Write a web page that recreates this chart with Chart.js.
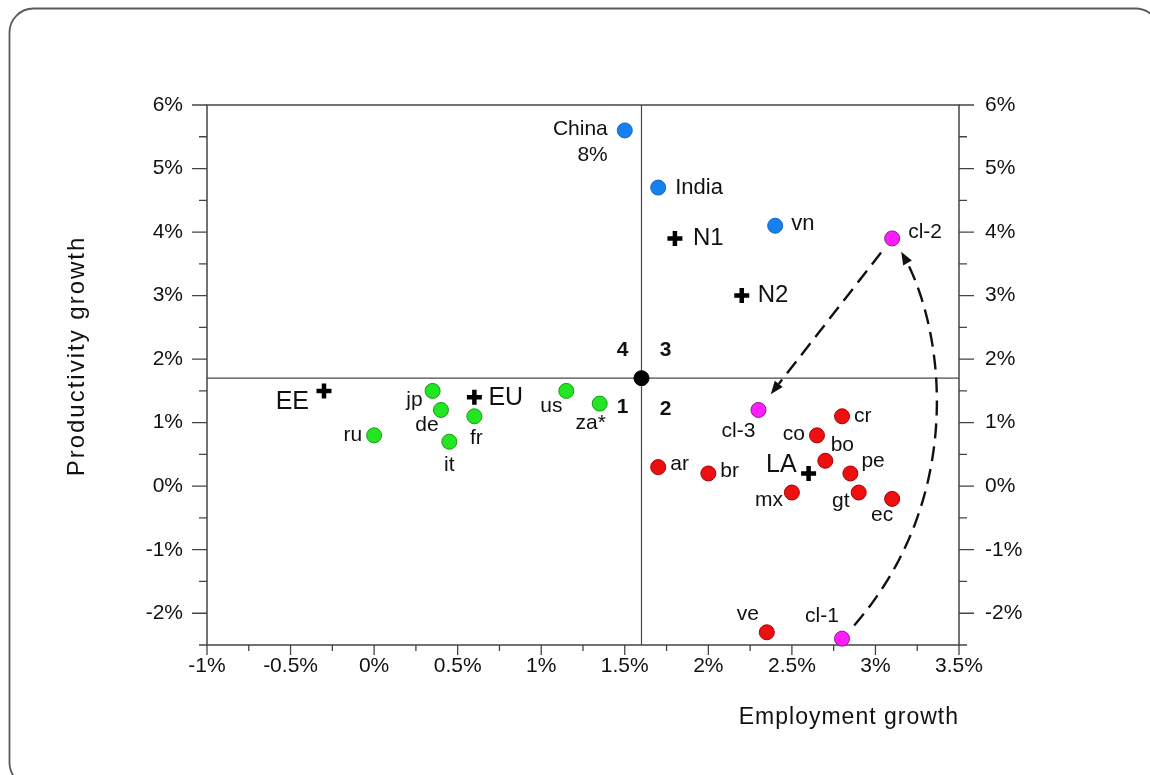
<!DOCTYPE html>
<html>
<head>
<meta charset="utf-8">
<title>Employment and productivity growth</title>
<script src="https://cdn.jsdelivr.net/npm/chart.js@4.4.1/dist/chart.umd.min.js"></script>
<style>
  html, body { margin: 0; padding: 0; background: #fff; }
  #wrap { width: 1150px; height: 775px; position: relative; overflow: hidden; }
</style>
</head>
<body>
<div id="wrap"><canvas id="c" width="1150" height="775"></canvas></div>
<script>
// Average annual growth: employment (x) and labour productivity (y), in %

// Fast-growing Asian economies
const asiaNames = ['China', 'India', 'vn'];
const asiaEmployment = [1.5, 1.7, 2.4];
const asiaProductivity = [5.6, 4.7, 4.1];
const chinaOffScaleNote = '8%';

// Advanced and other economies
const otherNames = ['ru', 'jp', 'de', 'it', 'fr', 'us', 'za*'];
const otherEmployment = [0.0, 0.35, 0.4, 0.45, 0.6, 1.15, 1.35];
const otherProductivity = [0.8, 1.5, 1.2, 0.7, 1.1, 1.5, 1.3];

// Latin America
const latamNames = ['ar', 'br', 'co', 'bo', 'cr', 'pe', 'mx', 'gt', 'ec', 've'];
const latamEmployment = [1.7, 2.0, 2.65, 2.7, 2.8, 2.85, 2.5, 2.9, 3.1, 2.35];
const latamProductivity = [0.3, 0.2, 0.8, 0.4, 1.1, 0.2, -0.1, -0.1, -0.2, -2.3];

// Chile in three periods
const chileNames = ['cl-1', 'cl-2', 'cl-3'];
const chileEmployment = [2.8, 3.1, 2.3];
const chileProductivity = [-2.4, 3.9, 1.2];

// Regional aggregates
const aggregateNames = ['N1', 'N2', 'EE', 'EU', 'LA'];
const aggregateEmployment = [1.8, 2.2, -0.3, 0.6, 2.6];
const aggregateProductivity = [3.9, 3.0, 1.5, 1.4, 0.2];

// Reference point splitting the plane into quadrants
const pivotEmployment = [1.6];
const pivotProductivity = [1.7];
const quadrantNames = ['1', '2', '3', '4'];

// Axis ticks
const xTickValues = [-1, -0.5, 0, 0.5, 1, 1.5, 2, 2.5, 3, 3.5];
const yTickValues = [-2, -1, 0, 1, 2, 3, 4, 5, 6];
const xRange = [-1, 3.5];
const yRange = [-2.5, 6];
const xMinorStep = 0.25;
const yMinorStep = 0.5;

const xTitle = 'Employment growth';
const yTitle = 'Productivity growth';

// ---------------------------------------------------------------------------
const FONT = '"Liberation Sans", Arial, Helvetica, sans-serif';

// Label placement around each marker: pixel offset, alignment, font size
const labelPlacement = {
  'China': { dx: -17, dy: -1, align: 'right', size: 21 },
  'India': { dx: 17, dy: 0, align: 'left', size: 22 },
  'vn':    { dx: 16, dy: -2, align: 'left', size: 22 },
  'ru':    { dx: -12, dy: 0, align: 'right', size: 21 },
  'jp':    { dx: -10, dy: 9, align: 'right', size: 21 },
  'de':    { dx: -14, dy: 15, align: 'center', size: 21 },
  'it':    { dx: 0, dy: 23, align: 'center', size: 21 },
  'fr':    { dx: 2, dy: 22, align: 'center', size: 21 },
  'us':    { dx: -15, dy: 15, align: 'center', size: 21 },
  'za*':   { dx: -9, dy: 20, align: 'center', size: 21 },
  'ar':    { dx: 12, dy: -3, align: 'left', size: 21 },
  'br':    { dx: 12, dy: -2, align: 'left', size: 21 },
  'co':    { dx: -12, dy: -1, align: 'right', size: 21 },
  'bo':    { dx: 17, dy: -16, align: 'center', size: 21 },
  'cr':    { dx: 12, dy: 0, align: 'left', size: 21 },
  'pe':    { dx: 11, dy: -12, align: 'left', size: 21 },
  'mx':    { dx: -9, dy: 8, align: 'right', size: 21 },
  'gt':    { dx: -18, dy: 9, align: 'center', size: 21 },
  'ec':    { dx: -10, dy: 16, align: 'center', size: 21 },
  've':    { dx: -19, dy: -18, align: 'center', size: 21 },
  'cl-1':  { dx: -20, dy: -22, align: 'center', size: 21 },
  'cl-2':  { dx: 16, dy: -6, align: 'left', size: 21 },
  'cl-3':  { dx: -20, dy: 21, align: 'center', size: 21 },
  'N1':    { dx: 18, dy: 0, align: 'left', size: 24 },
  'N2':    { dx: 16, dy: 0, align: 'left', size: 24 },
  'EE':    { dx: -15, dy: 11, align: 'right', size: 25 },
  'EU':    { dx: 14, dy: 1, align: 'left', size: 25 },
  'LA':    { dx: -12, dy: -8, align: 'right', size: 25 }
};
const quadrantPlacement = {
  '1': { dx: -19, dy: 29 },
  '2': { dx: 24, dy: 31 },
  '3': { dx: 24, dy: -28 },
  '4': { dx: -19, dy: -28 }
};

function points(names, xs, ys) {
  return names.map((n, i) => ({ x: xs[i], y: ys[i], name: n }));
}

function dotSet(label, names, xs, ys, fill, edge) {
  return {
    label,
    data: points(names, xs, ys),
    pointStyle: 'circle',
    pointRadius: 7.5,
    pointBackgroundColor: fill,
    pointBorderColor: edge,
    pointBorderWidth: 1,
    showLine: false
  };
}

const datasets = [
  dotSet('Asia', asiaNames, asiaEmployment, asiaProductivity, '#1681ee', '#1565c0'),
  dotSet('Other', otherNames, otherEmployment, otherProductivity, '#22e622', '#169c16'),
  dotSet('Latin America', latamNames, latamEmployment, latamProductivity, '#ee1010', '#a80000'),
  dotSet('Chile', chileNames, chileEmployment, chileProductivity, '#ff1cff', '#8a1a8a'),
  {
    label: 'Aggregates',
    data: points(aggregateNames, aggregateEmployment, aggregateProductivity),
    pointStyle: 'cross',
    pointRadius: 7.5,
    pointBorderColor: '#000',
    pointBorderWidth: 4.5,
    showLine: false
  },
  {
    label: 'Pivot',
    data: points(['pivot'], pivotEmployment, pivotProductivity),
    pointStyle: 'circle',
    pointRadius: 7.5,
    pointBackgroundColor: '#000',
    pointBorderColor: '#000',
    pointBorderWidth: 1,
    showLine: false
  }
];

function pixelOf(chart, name) {
  for (const ds of chart.data.datasets) {
    const p = ds.data.find(d => d.name === name);
    if (p) return { x: chart.scales.x.getPixelForValue(p.x), y: chart.scales.y.getPixelForValue(p.y) };
  }
  return null;
}

function cubicPolyline(p0, p1, p2, p3, n) {
  const out = [];
  for (let i = 0; i <= n; i++) {
    const t = i / n, u = 1 - t;
    out.push({
      x: u*u*u*p0.x + 3*u*u*t*p1.x + 3*u*t*t*p2.x + t*t*t*p3.x,
      y: u*u*u*p0.y + 3*u*u*t*p1.y + 3*u*t*t*p2.y + t*t*t*p3.y
    });
  }
  return out;
}

function trimPolyline(pts, startGap, endGap) {
  const cum = [0];
  for (let i = 1; i < pts.length; i++) cum.push(cum[i-1] + Math.hypot(pts[i].x - pts[i-1].x, pts[i].y - pts[i-1].y));
  const total = cum[cum.length - 1];
  const at = (d) => {
    for (let i = 1; i < pts.length; i++) {
      if (cum[i] >= d) {
        const f = (d - cum[i-1]) / (cum[i] - cum[i-1] || 1);
        return { x: pts[i-1].x + f * (pts[i].x - pts[i-1].x), y: pts[i-1].y + f * (pts[i].y - pts[i-1].y) };
      }
    }
    return pts[pts.length - 1];
  };
  const res = [at(startGap)];
  for (let i = 0; i < pts.length; i++) if (cum[i] > startGap && cum[i] < total - endGap) res.push(pts[i]);
  res.push(at(total - endGap));
  return res;
}

function drawArrow(ctx, pts) {
  ctx.save();
  ctx.strokeStyle = '#111';
  ctx.fillStyle = '#111';
  ctx.lineWidth = 2.4;
  const tip = pts[pts.length - 1];
  let k = pts.length - 2;
  while (k > 0 && Math.hypot(tip.x - pts[k].x, tip.y - pts[k].y) < 6) k--;
  const ang = Math.atan2(tip.y - pts[k].y, tip.x - pts[k].x);
  const headLen = 13, headHalf = 5;
  const base = { x: tip.x - headLen * Math.cos(ang), y: tip.y - headLen * Math.sin(ang) };
  // shaft stops at the head's base
  const shaft = pts.slice(0, -1).filter(p => Math.hypot(p.x - tip.x, p.y - tip.y) > headLen);
  shaft.push(base);
  ctx.setLineDash([15, 8]);
  ctx.beginPath();
  shaft.forEach((p, i) => i ? ctx.lineTo(p.x, p.y) : ctx.moveTo(p.x, p.y));
  ctx.stroke();
  ctx.setLineDash([]);
  ctx.beginPath();
  ctx.moveTo(tip.x, tip.y);
  ctx.lineTo(base.x + headHalf * Math.sin(ang), base.y - headHalf * Math.cos(ang));
  ctx.lineTo(base.x - headHalf * Math.sin(ang), base.y + headHalf * Math.cos(ang));
  ctx.closePath();
  ctx.fill();
  ctx.restore();
}

const decor = {
  id: 'decor',
  beforeDraw(chart) {
    const ctx = chart.ctx;
    ctx.save();
    ctx.fillStyle = '#fff';
    ctx.fillRect(0, 0, chart.width, chart.height);
    ctx.strokeStyle = '#5a5a5a';
    ctx.lineWidth = 1.8;
    ctx.beginPath();
    ctx.roundRect(9.5, 8.5, 1150, 778, 24);
    ctx.stroke();
    ctx.restore();
  },
  beforeDatasetsDraw(chart) {
    const { ctx, chartArea: a, scales: { x, y } } = chart;
    ctx.save();
    // quadrant lines through the pivot
    ctx.strokeStyle = '#4a4a4a';
    ctx.lineWidth = 1.2;
    const px = x.getPixelForValue(pivotEmployment[0]);
    const py = y.getPixelForValue(pivotProductivity[0]);
    ctx.beginPath();
    ctx.moveTo(px, a.top); ctx.lineTo(px, a.bottom);
    ctx.moveTo(a.left, py); ctx.lineTo(a.right, py);
    ctx.stroke();

    // frame of the plot
    ctx.strokeStyle = '#444';
    ctx.lineWidth = 1.5;
    ctx.strokeRect(a.left, a.top, a.right - a.left, a.bottom - a.top);

    // tick marks: bottom axis
    ctx.lineWidth = 1.3;
    ctx.beginPath();
    const nx = Math.round((xRange[1] - xRange[0]) / xMinorStep);
    for (let i = 0; i <= nx; i++) {
      const v = xRange[0] + i * xMinorStep;
      const major = xTickValues.some(t => Math.abs(t - v) < 1e-9);
      const p = x.getPixelForValue(v);
      ctx.moveTo(p, a.bottom); ctx.lineTo(p, a.bottom + (major ? 10 : 6));
    }
    // tick marks: left and right axes
    const ny = Math.round((yRange[1] - yRange[0]) / yMinorStep);
    for (let i = 0; i <= ny; i++) {
      const v = yRange[0] + i * yMinorStep;
      const major = yTickValues.some(t => Math.abs(t - v) < 1e-9);
      const p = y.getPixelForValue(v);
      const len = major ? 15 : 8;
      ctx.moveTo(a.left, p); ctx.lineTo(a.left - len, p);
      ctx.moveTo(a.right, p); ctx.lineTo(a.right + len, p);
    }
    ctx.stroke();
    ctx.restore();
  },
  afterDatasetsDraw(chart) {
    const { ctx, chartArea: a } = chart;
    ctx.save();

    // arrows linking the Chile periods
    const c1 = pixelOf(chart, 'cl-1'), c2 = pixelOf(chart, 'cl-2'), c3 = pixelOf(chart, 'cl-3');
    drawArrow(ctx, trimPolyline([c2, c3], 18, 20));
    const curve = cubicPolyline(c1, { x: c1.x + 138, y: c1.y - 143 }, { x: c2.x + 48, y: c2.y + 61 }, c2, 120);
    drawArrow(ctx, trimPolyline(curve, 18, 16));

    // point labels
    ctx.fillStyle = '#111';
    ctx.textBaseline = 'middle';
    for (const [name, pl] of Object.entries(labelPlacement)) {
      const p = pixelOf(chart, name);
      if (!p) continue;
      ctx.font = pl.size + 'px ' + FONT;
      ctx.textAlign = pl.align;
      ctx.fillText(name, p.x + pl.dx, p.y + pl.dy);
    }
    const china = pixelOf(chart, 'China');
    ctx.font = '21px ' + FONT;
    ctx.textAlign = 'right';
    ctx.fillText(chinaOffScaleNote, china.x - 17, china.y + 25);

    // quadrant numbers
    const piv = pixelOf(chart, 'pivot');
    ctx.font = 'bold 21px ' + FONT;
    ctx.textAlign = 'center';
    for (const q of quadrantNames) {
      const pl = quadrantPlacement[q];
      ctx.fillText(q, piv.x + pl.dx, piv.y + pl.dy);
    }

    // axis titles
    ctx.fillStyle = '#111';
    ctx.font = '23px ' + FONT;
    if ('letterSpacing' in ctx) ctx.letterSpacing = '1px';
    ctx.textAlign = 'right';
    ctx.fillText(xTitle, a.right, 718);
    ctx.save();
    ctx.translate(77, 356);
    ctx.rotate(-Math.PI / 2);
    ctx.font = '24px ' + FONT;
    if ('letterSpacing' in ctx) ctx.letterSpacing = '2px';
    ctx.textAlign = 'center';
    ctx.fillText(yTitle, 0, 0);
    ctx.restore();
    ctx.restore();
  }
};

const pct = v => (Math.round(v * 10) / 10) + '%';
const tickFont = { family: FONT, size: 21 };

new Chart(document.getElementById('c'), {
  type: 'scatter',
  data: { datasets },
  options: {
    responsive: false,
    animation: false,
    devicePixelRatio: 1,
    layout: { padding: { top: 105, left: 0, right: 0, bottom: 0 } },
    plugins: { legend: { display: false }, tooltip: { enabled: false } },
    elements: { point: { hoverRadius: 7.5 } },
    clip: false,
    scales: {
      x: {
        type: 'linear', position: 'bottom',
        min: xRange[0], max: xRange[1],
        afterBuildTicks: s => { s.ticks = xTickValues.map(v => ({ value: v })); },
        afterFit: s => { s.height = 130; },
        grid: { display: false, drawTicks: false },
        border: { display: false },
        ticks: { callback: v => pct(v), font: tickFont, color: '#111', padding: 9, maxRotation: 0, autoSkip: false }
      },
      y: {
        type: 'linear', position: 'left',
        min: yRange[0], max: yRange[1],
        afterBuildTicks: s => { s.ticks = yTickValues.map(v => ({ value: v })); },
        afterFit: s => { s.width = 207; },
        grid: { display: false, drawTicks: false },
        border: { display: false },
        ticks: { callback: v => pct(v), font: tickFont, color: '#111', padding: 24, autoSkip: false }
      },
      y2: {
        type: 'linear', position: 'right',
        min: yRange[0], max: yRange[1],
        afterBuildTicks: s => { s.ticks = yTickValues.map(v => ({ value: v })); },
        afterFit: s => { s.width = 191; },
        grid: { display: false, drawTicks: false },
        border: { display: false },
        ticks: { callback: v => pct(v), font: tickFont, color: '#111', padding: 26, autoSkip: false }
      }
    }
  },
  plugins: [decor]
});
</script>
</body>
</html>
